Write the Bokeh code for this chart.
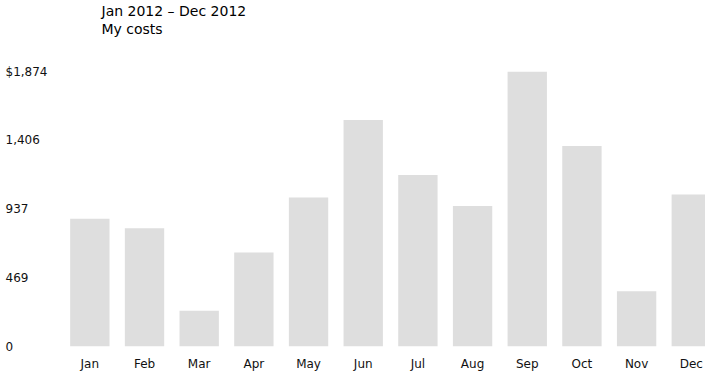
from bokeh.plotting import figure
from bokeh.models import Range1d, FixedTicker, Title
from bokeh.embed import file_html
from bokeh.resources import INLINE

months = ["Jan", "Feb", "Mar", "Apr", "May", "Jun", "Jul", "Aug", "Sep", "Oct", "Nov", "Dec"]
costs = [871, 805, 244, 640, 1016, 1544, 1168, 957, 1874, 1366, 376, 1036]
y_ticks = [0, 468.5, 937, 1405.5, 1874]
y_tick_labels = ["0", "469", "937", "1,406", "$1,874"]
title_line1 = "Jan 2012 \u2013 Dec 2012"
title_line2 = "My costs"

FS = "\u2007"  # figure space (digit width)
PS = "\u2008"  # punctuation space (comma width)
pad = {"0": FS * 4 + PS, "469": FS * 2 + PS, "937": FS * 2 + PS, "1,406": FS, "$1,874": ""}

x_idx = list(range(len(months)))
font = "DejaVu Sans"

p = figure(width=705, height=373, output_backend="svg", toolbar_location=None,
           x_range=Range1d(-0.5, 11.26), y_range=Range1d(0, 1874),
           min_border_left=62, min_border_right=0, min_border_top=0, min_border_bottom=10)
p.outline_line_color = None
p.background_fill_color = "white"
p.border_fill_color = "white"
p.grid.visible = False

p.vbar(x=x_idx, top=costs, bottom=0, width=0.72, fill_color="#dedede", line_color=None)

p.xaxis.ticker = FixedTicker(ticks=x_idx)
p.xaxis.major_label_overrides = {i: m for i, m in zip(x_idx, months)}
p.yaxis.ticker = FixedTicker(ticks=y_ticks)
p.yaxis.major_label_overrides = {t: l + pad[l] for t, l in zip(y_ticks, y_tick_labels)}
for ax in (p.xaxis, p.yaxis):
    ax.axis_line_color = None
    ax.major_tick_line_color = None
    ax.minor_tick_line_color = None
    ax.major_tick_out = 0
    ax.major_tick_in = 0
    ax.axis_label_standoff = 0
    ax.major_label_text_font = font
    ax.major_label_text_font_size = "12px"
    ax.major_label_text_line_height = 1.0
    ax.major_label_text_color = "#111111"
p.xaxis.major_label_standoff = 10
p.yaxis.major_label_standoff = 15

# outermost (top) title line
p.title.text = title_line1
p.title.align = "left"
p.title.offset = 39
p.title.standoff = 0
p.title.text_font = font
p.title.text_font_size = "14px"
p.title.text_font_style = "normal"
p.title.text_color = "#000000"

# spacer closest to the frame, then the second title line above it
p.add_layout(Title(text=" ", align="left", offset=39, standoff=0,
                   text_font=font, text_font_size="28px"), "above")
p.add_layout(Title(text=title_line2, align="left", offset=39, standoff=0,
                   text_font=font, text_font_size="14px", text_font_style="normal",
                   text_color="#000000"), "above")

open("out.html", "w").write(file_html(p, INLINE))
